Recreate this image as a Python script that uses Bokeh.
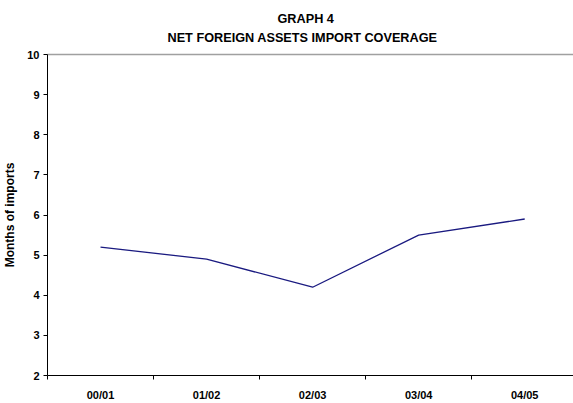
from bokeh.plotting import figure
from bokeh.models import Range1d, FixedTicker, Title, LinearAxis
from bokeh.embed import file_html
from bokeh.resources import INLINE

# Net foreign assets import coverage (months of imports) by fiscal year
categories = ["00/01", "01/02", "02/03", "03/04", "04/05"]
coverage = [5.2, 4.9, 4.2, 5.5, 5.9]
y_ticks = [2, 3, 4, 5, 6, 7, 8, 9, 10]

FONT = "Liberation Sans"

# category centres sit half-way between the category separators
x_pos = [i + 0.5 for i in range(len(categories))]

p = figure(
    width=573, height=403,
    x_range=Range1d(0, 4.96), y_range=Range1d(2, 10),
    output_backend="svg", toolbar_location=None, title=None,
    min_border_left=44, min_border_right=0, min_border_top=54, min_border_bottom=26,
)
p.background_fill_color = "white"
p.border_fill_color = "white"
p.outline_line_color = None
p.xgrid.visible = False
p.ygrid.visible = False

# x axis: labels at category centres, separator ticks between categories
xa = p.below[0]
xa.ticker = FixedTicker(ticks=x_pos, minor_ticks=list(range(len(categories) + 1)))
xa.major_label_overrides = {x: c for x, c in zip(x_pos, categories)}
xa.major_tick_out = 0
xa.major_tick_in = 0
xa.minor_tick_out = 4
xa.minor_tick_in = 0
xa.minor_tick_line_color = "black"
xa.axis_line_color = "black"
xa.major_label_standoff = 9
xa.major_label_text_font = FONT
xa.major_label_text_font_size = "11px"
xa.major_label_text_font_style = "bold"
xa.major_label_text_color = "black"

ya = p.left[0]
ya.ticker = FixedTicker(ticks=y_ticks)
ya.minor_tick_line_color = None
ya.major_tick_out = 4
ya.major_tick_in = 0
ya.major_tick_line_color = "black"
ya.axis_line_color = "black"
ya.major_label_standoff = 4
ya.major_label_text_font = FONT
ya.major_label_text_font_size = "11px"
ya.major_label_text_font_style = "bold"
ya.major_label_text_color = "black"
ya.axis_label = "Months of imports"
ya.axis_label_text_font = FONT
ya.axis_label_text_font_size = "12px"
ya.axis_label_text_font_style = "bold"
ya.axis_label_text_color = "black"
ya.axis_label_standoff = 7

# thin grey border along the top of the plot area; its invisible tick
# leaves a small gap below the heading
top = LinearAxis(ticker=FixedTicker(ticks=[0.5]), axis_line_color="#a0a0a0",
                 axis_line_width=1.5, major_tick_line_color=None,
                 major_tick_out=6, major_tick_in=0,
                 minor_tick_line_color=None, major_label_text_font_size="0px",
                 major_label_overrides={0.5: ""}, major_label_standoff=0)
p.add_layout(top, "above")

p.add_layout(Title(text="NET FOREIGN ASSETS IMPORT COVERAGE", align="left",
                   text_font=FONT, text_font_size="12.7px", text_font_style="bold",
                   text_color="black", offset=120, standoff=7), "above")
p.add_layout(Title(text="GRAPH 4", align="left",
                   text_font=FONT, text_font_size="12.7px", text_font_style="bold",
                   text_color="black", offset=230, standoff=0), "above")

p.line(x_pos, coverage, line_color="#1a1a80", line_width=1.3)

open("out.html", "w").write(file_html(p, INLINE))
